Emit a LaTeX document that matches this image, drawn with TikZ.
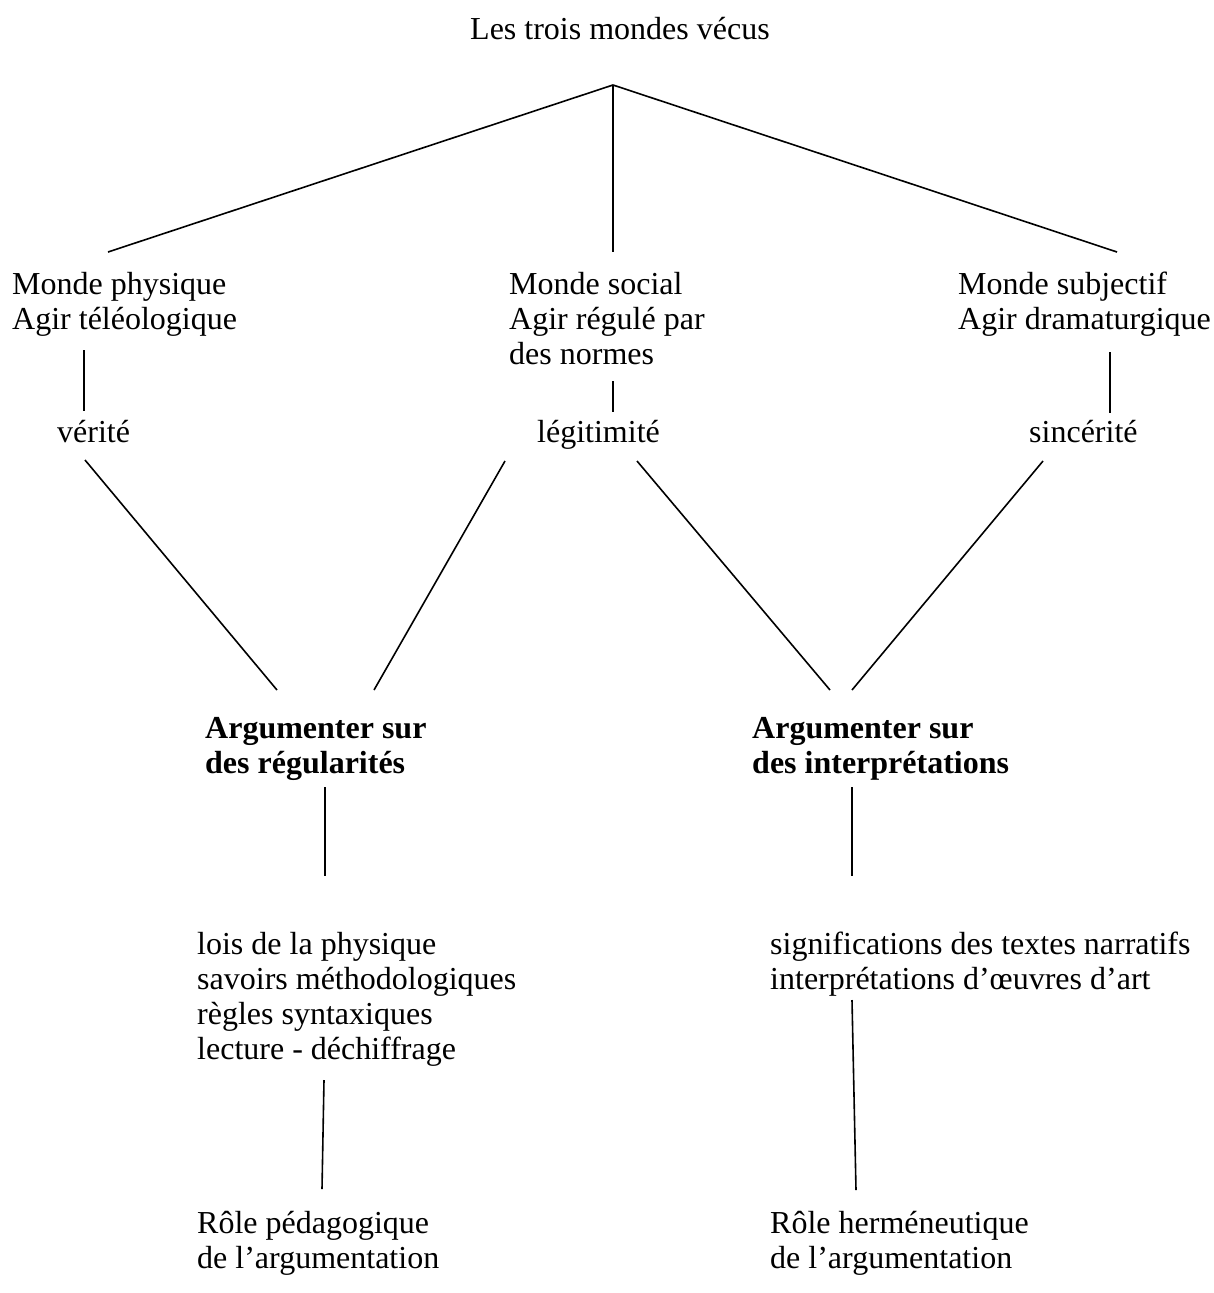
\documentclass[tikz,border=0pt]{standalone}
\usepackage{fontspec}
\setmainfont{Liberation Serif}
\usepackage{tikz}

\begin{document}
\begin{tikzpicture}[x=1pt,y=-1pt,
    txt/.style={anchor=base west,inner sep=0pt,align=left,font=\fontsize{32}{35}\selectfont},
    trait/.style={line width=1.6pt}]
        \useasboundingbox (0,0) rectangle (1213,1293);
        % textes (base = ligne du bas)
        \node[txt] (titre) at (470,39) {Les trois mondes vécus};
        \node[txt] (physique) at (12,329) {Monde physique\\Agir téléologique};
        \node[txt] (social) at (509,364) {Monde social\\Agir régulé par\\des normes};
        \node[txt] (subjectif) at (958,329) {Monde subjectif\\Agir dramaturgique};
        \node[txt] (verite) at (57,442) {vérité};
        \node[txt] (legitimite) at (537,442) {légitimité};
        \node[txt] (sincerite) at (1029,442) {sincérité};
        \node[txt] (regul) at (205,773) {\textbf{Argumenter sur}\\\textbf{des régularités}};
        \node[txt] (interp) at (752,773) {\textbf{Argumenter sur}\\\textbf{des interprétations}};
        \node[txt] (lois) at (197,1059) {lois de la physique\\savoirs méthodologiques\\règles syntaxiques\\lecture - déchiffrage};
        \node[txt] (signif) at (770,989) {significations des textes narratifs\\interprétations d’œuvres d’art};
        \node[txt] (pedago) at (197,1268) {Rôle pédagogique\\de l’argumentation};
        \node[txt] (hermen) at (770,1268) {Rôle herméneutique\\de l’argumentation};
        % points des traits
        \coordinate (sommet) at (613,85);
        \coordinate (p1) at (108,252);
        \coordinate (p2) at (613,252);
        \coordinate (p3) at (1117,252);
        \coordinate (v1a) at (84,350);   \coordinate (v1b) at (84,411);
        \coordinate (v2a) at (613,381);  \coordinate (v2b) at (613,412);
        \coordinate (v3a) at (1110,352); \coordinate (v3b) at (1110,413);
        \coordinate (d1a) at (85,460);   \coordinate (d1b) at (277,690);
        \coordinate (d2a) at (505,461);  \coordinate (d2b) at (374,690);
        \coordinate (d3a) at (637,461);  \coordinate (d3b) at (830,690);
        \coordinate (d4a) at (1043,461); \coordinate (d4b) at (852,690);
        \coordinate (r1a) at (325,787);  \coordinate (r1b) at (325,876);
        \coordinate (r2a) at (852,787);  \coordinate (r2b) at (852,876);
        \coordinate (s1a) at (324,1080); \coordinate (s1b) at (322,1189);
        \coordinate (s2a) at (852,1000); \coordinate (s2b) at (856,1190);
        % traits
        \foreach \a/\b in {sommet/p1,sommet/p2,sommet/p3,v1a/v1b,v2a/v2b,v3a/v3b,
            d1a/d1b,d2a/d2b,d3a/d3b,d4a/d4b,r1a/r1b,r2a/r2b,s1a/s1b,s2a/s2b} {
            \draw[trait] (\a) -- (\b);
        }
    \end{tikzpicture}
\end{document}
